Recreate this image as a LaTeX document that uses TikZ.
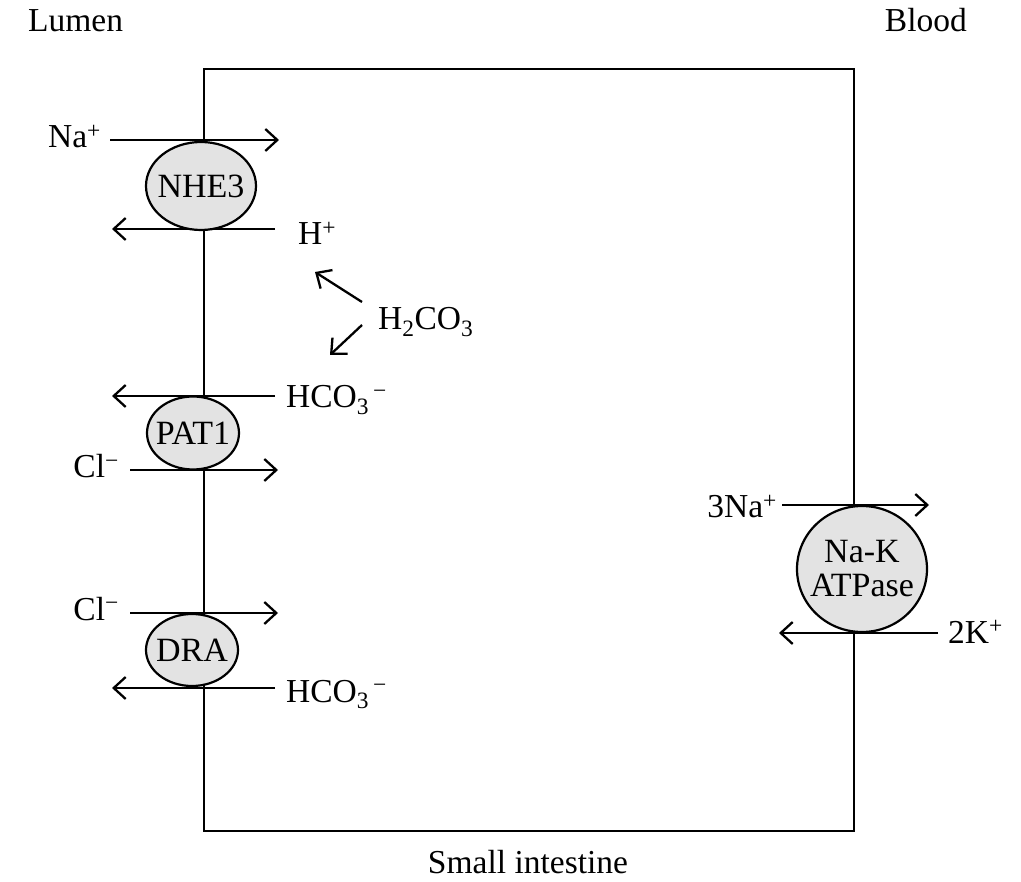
\documentclass[tikz,border=0pt]{standalone}
\usepackage{fontspec}
\setmainfont{Liberation Serif}
\usetikzlibrary{shapes.geometric,arrows.meta}
\newcommand\zbox[1]{\makebox[0pt]{#1}}
\begin{document}
\begin{tikzpicture}[x=1pt,y=-1pt,line width=2.3pt,
  lbl/.style={font=\fontsize{33.5}{37}\selectfont,inner sep=0pt},
  pump/.style={ellipse,draw,fill=black!11,inner sep=0pt,line width=2.2pt,
    font=\fontsize{34}{34}\selectfont,align=center},
  flow/.style={-{Straight Barb[length=12pt,width=22pt]}}]
\useasboundingbox (0,0) rectangle (1021,882);
% cell
\node[draw,line width=2.3pt,minimum width=650pt,minimum height=762pt,inner sep=0pt,anchor=north west] (cell) at (203,68) {};
% headings
\node[lbl,anchor=base west] (lumen) at (27,32) {Lumen};
\node[lbl,anchor=base east] (blood) at (968,32) {Blood};
\node[lbl,anchor=base] (si) at (528,873) {Small intestine};
% NHE3
\coordinate (na1s) at (110,140); \coordinate (na1e) at (279,140);
\coordinate (h1s) at (275,229); \coordinate (h1e) at (112,229);
\draw[flow] (na1s) -- (na1e);
\draw[flow] (h1s) -- (h1e);
\node[pump,minimum width=110pt,minimum height=88pt] (nhe3) at (201,186) {\zbox{NHE3}};
\node[lbl,anchor=base east] (naL) at (102,148) {Na\textsuperscript{+}};
\node[lbl,anchor=base west] (hL) at (297,245) {H\textsuperscript{+}};
% H2CO3
\node[lbl,anchor=base west] (h2co3) at (377,330) {H\textsubscript{2}CO\textsubscript{3}};
\coordinate (c1s) at (362,302); \coordinate (c1e) at (315,272);
\coordinate (c2s) at (362,325); \coordinate (c2e) at (330,355);
\draw[flow] (c1s) -- (c1e);
\draw[flow] (c2s) -- (c2e);
% PAT1
\coordinate (b1s) at (275,396); \coordinate (b1e) at (112,396);
\coordinate (cl1s) at (130,470); \coordinate (cl1e) at (278,470);
\draw[flow] (b1s) -- (b1e);
\draw[flow] (cl1s) -- (cl1e);
\node[pump,minimum width=92pt,minimum height=73pt] (pat1) at (193,433) {\zbox{PAT1}};
\node[lbl,anchor=base west] (b1L) at (285,408) {HCO\textsubscript{3}\textsuperscript{\,−}};
\node[lbl,anchor=base east] (cl1L) at (120,478) {Cl\textsuperscript{−}};
% DRA
\coordinate (cl2s) at (130,613); \coordinate (cl2e) at (278,613);
\coordinate (b2s) at (275,688); \coordinate (b2e) at (112,688);
\draw[flow] (cl2s) -- (cl2e);
\draw[flow] (b2s) -- (b2e);
\node[pump,minimum width=92pt,minimum height=72pt] (dra) at (192,650) {\zbox{DRA}};
\node[lbl,anchor=base east] (cl2L) at (120,620) {Cl\textsuperscript{−}};
\node[lbl,anchor=base west] (b2L) at (285,702) {HCO\textsubscript{3}\textsuperscript{\,−}};
% Na-K ATPase
\coordinate (na3s) at (782,505); \coordinate (na3e) at (929,505);
\coordinate (k2s) at (938,633); \coordinate (k2e) at (779,633);
\draw[flow] (na3s) -- (na3e);
\draw[flow] (k2s) -- (k2e);
\node[pump,minimum width=130pt,minimum height=126pt] (nak) at (862,569) {\zbox{Na-K}\\\zbox{ATPase}};
\node[lbl,anchor=base east] (na3L) at (778,518) {3Na\textsuperscript{+}};
\node[lbl,anchor=base west] (k2L) at (947,643) {2K\textsuperscript{+}};
\end{tikzpicture}
\end{document}
